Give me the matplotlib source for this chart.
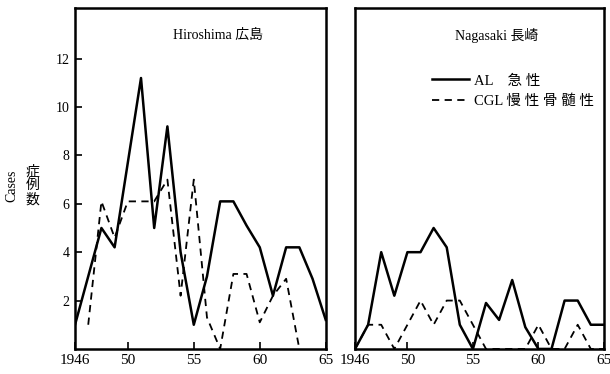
import numpy as np
import matplotlib.pyplot as plt

plt.rcParams['font.family'] = ['Liberation Serif', 'Noto Sans CJK JP']

years = list(range(1946, 1966))

# Hiroshima
hiro_al = [1, 3, 5, 4.2, 7.7, 11.2, 5, 9.2, 4, 1, 3, 6.1, 6.1, 5.1, 4.2, 2.2, 4.2, 4.2, 2.9, 1.2]
hiro_cgl_years = list(range(1947, 1964))
hiro_cgl = [1, 6.1, 4.6, 6.1, 6.1, 6.1, 7, 2.2, 7, 1.3, 0, 3.1, 3.1, 1.1, 2.2, 2.9, 0]

# Nagasaki
naga_al = [0, 1, 4, 2.2, 4, 4, 5, 4.2, 1, 0, 1.9, 1.2, 2.85, 0.9, 0, 0, 2, 2, 1, 1]
naga_cgl = [0, 1, 1, 0, 1, 2, 1, 2, 2, 1, 0, 0, 0, 0, 1, 0, 0, 1, 0, 0]

xticks = [1946, 1950, 1955, 1960, 1965]
xticklabels = ['1946', '50', '55', '60', '65']
yticks = [2, 4, 6, 8, 10, 12]

fig = plt.figure(figsize=(6.1, 3.74), dpi=100)
ax1 = fig.add_axes([0.123, 0.067, 0.411, 0.912])
ax2 = fig.add_axes([0.582, 0.067, 0.408, 0.912])

for ax in (ax1, ax2):
    ax.set_xlim(1946, 1965)
    ax.set_ylim(0, 14.1)
    ax.set_xticks(xticks)
    ax.set_xticklabels(xticklabels, fontsize=11)
    ax.tick_params(direction='in', length=5, width=1.2, pad=4)
    for s in ax.spines.values():
        s.set_linewidth(1.8)

ax1.set_yticks(yticks)
ax1.set_yticklabels([str(v) for v in yticks], fontsize=10)
ax2.set_yticks([])

ax1.plot(years, hiro_al, color='black', lw=1.8, label='AL    急性')
ax1.plot(hiro_cgl_years, hiro_cgl, color='black', lw=1.3, dashes=(4, 3), label='CGL 慢性骨髄性')
ax2.plot(years, naga_al, color='black', lw=1.8, label='AL    急 性')
ax2.plot(years, naga_cgl, color='black', lw=1.3, dashes=(4, 3), label='CGL 慢 性 骨 髄 性')

ax1.text(0.57, 0.92, 'Hiroshima 広島', transform=ax1.transAxes, ha='center', va='center', fontsize=10)
ax2.text(0.57, 0.92, 'Nagasaki 長崎', transform=ax2.transAxes, ha='center', va='center', fontsize=10)

ax2.legend(loc='upper left', bbox_to_anchor=(0.31, 0.805), frameon=False, fontsize=10.5,
           borderaxespad=0, borderpad=0,
           handlelength=2.5, handletextpad=0.35, labelspacing=0.45)

fig.text(0.02, 0.503, 'Cases', rotation=90, ha='center', va='center', fontsize=10)
fig.text(0.053, 0.503, '症\n例\n数', ha='center', va='center', fontsize=10, linespacing=1.1)

fig.savefig('out.png', dpi=100)
